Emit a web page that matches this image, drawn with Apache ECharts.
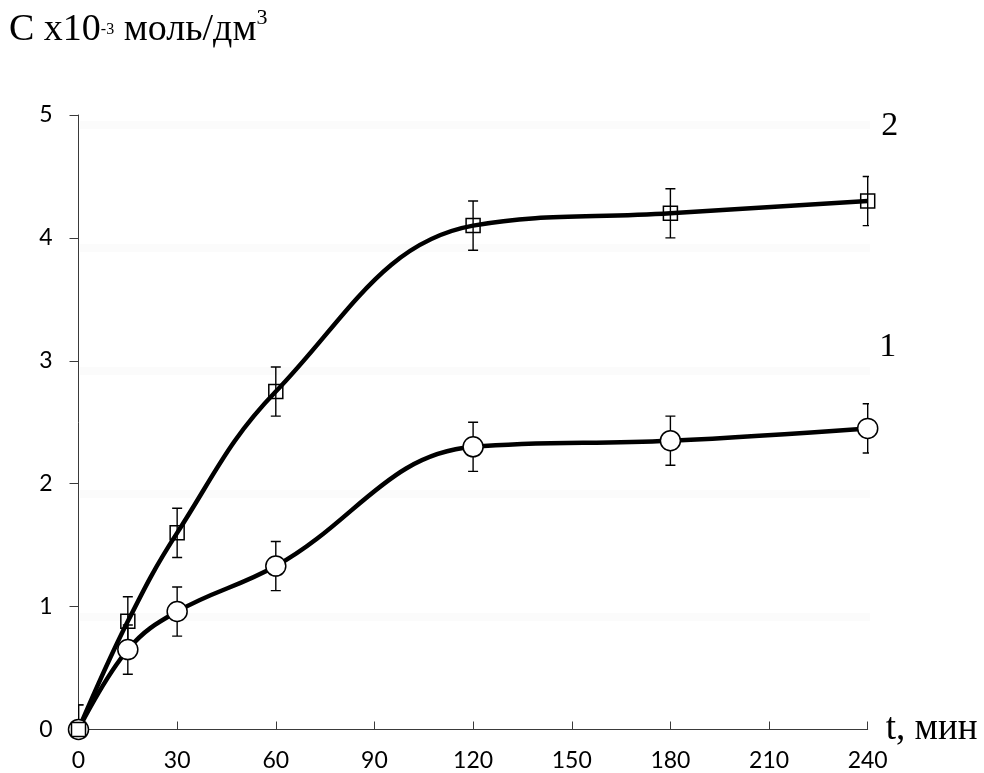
<!DOCTYPE html>
<html>
<head>
<meta charset="utf-8">
<script src="https://cdn.jsdelivr.net/npm/echarts@6/dist/echarts.min.js"></script>
<style>
  html, body { margin: 0; padding: 0; background: #fff; }
  #chart { width: 984px; height: 773px; }
</style>
</head>
<body>
<div id="chart"></div>
<script>
// Time points, min
const timePoints = [0, 15, 30, 60, 120, 180, 240];
// Concentration, x10^-3 mol/dm3
const curve1 = [0, 0.65, 0.96, 1.33, 2.3, 2.35, 2.45];
const curve2 = [0, 0.88, 1.6, 2.75, 4.1, 4.2, 4.3];
// Error bar half-widths
const err1 = [0.2, 0.2, 0.2, 0.2, 0.2, 0.2, 0.2];
const err2 = [0.2, 0.2, 0.2, 0.2, 0.2, 0.2, 0.2];
// Axis ranges
const xMin = 0, xMax = 240, xStep = 30;
const yMin = 0, yMax = 5, yStep = 1;
const curveNames = ['1', '2'];

const pairs = (ys) => timePoints.map((t, i) => [t, ys[i]]);
const errData = (ys, es) => timePoints.map((t, i) => [t, ys[i], es[i]]);

// Vertical error bar with caps
function renderErr(params, api) {
  const x = api.value(0), y = api.value(1), e = api.value(2);
  const hi = api.coord([x, y + e]);
  const lo = api.coord([x, y - e]);
  const cap = 5;
  const style = { stroke: '#000', lineWidth: 1.4 };
  return {
    type: 'group',
    children: [
      { type: 'line', shape: { x1: hi[0], y1: hi[1], x2: lo[0], y2: lo[1] }, style },
      { type: 'line', shape: { x1: hi[0] - cap, y1: hi[1], x2: hi[0] + cap, y2: hi[1] }, style },
      { type: 'line', shape: { x1: lo[0] - cap, y1: lo[1], x2: lo[0] + cap, y2: lo[1] }, style }
    ]
  };
}

// Curve number placed above the last point
function curveLabel(ys, name, offset) {
  return {
    symbol: 'circle',
    symbolSize: 1,
    itemStyle: { color: 'rgba(0,0,0,0)' },
    silent: true,
    data: [{
      coord: [timePoints[timePoints.length - 1], ys[ys.length - 1]],
      label: {
        show: true, formatter: name, position: 'inside', offset: offset,
        color: '#000', fontFamily: 'Liberation Serif', fontSize: 34
      }
    }]
  };
}

const axisColor = '#3a3a3a';
const serif = 'Liberation Serif';
const chart = echarts.init(document.getElementById('chart'));
chart.setOption({
  animation: false,
  backgroundColor: '#fff',
  title: {
    text: '{b|С х10}{s|-3}{b| моль/дм}{t|3}',
    left: 9, top: 7, padding: 0,
    textStyle: {
      fontWeight: 'normal',
      rich: {
        b: { fontFamily: serif, fontSize: 38, lineHeight: 46, fontWeight: 'normal', color: '#000' },
        s: { fontFamily: serif, fontSize: 16, lineHeight: 46, fontWeight: 'normal', color: '#000' },
        t: { fontFamily: serif, fontSize: 22, lineHeight: 35, verticalAlign: 'top', fontWeight: 'normal', color: '#000' }
      }
    }
  },
  grid: [
    { left: 78.5, right: 116.3, top: 115, bottom: 43.5 },
    { left: 80, right: 114, top: 125, bottom: 33.5 }
  ],
  xAxis: [
    {
      type: 'value', gridIndex: 0, min: xMin, max: xMax, interval: xStep,
      axisLine: { lineStyle: { color: axisColor, width: 1 } },
      axisTick: { inside: true, length: 8, lineStyle: { color: axisColor, width: 1 } },
      splitLine: { show: false },
      axisLabel: { margin: 20, fontFamily: 'Lato', fontSize: 23, color: '#000' },
      name: 't, мин', nameLocation: 'end', nameGap: 18,
      nameTextStyle: { fontFamily: serif, fontSize: 37, color: '#000', verticalAlign: 'middle', padding: [6, 0, 0, 0] }
    },
    {
      type: 'value', gridIndex: 1, min: xMin, max: xMax, show: false
    }
  ],
  yAxis: [
    {
      type: 'value', gridIndex: 0, min: yMin, max: yMax, interval: yStep,
      axisLine: { show: true, lineStyle: { color: axisColor, width: 1 } },
      axisTick: { show: true, inside: false, length: 9, lineStyle: { color: axisColor, width: 1 } },
      splitLine: { show: false },
      axisLabel: { margin: 26, fontFamily: 'Lato', fontSize: 23, color: '#000' }
    },
    {
      type: 'value', gridIndex: 1, min: yMin, max: yMax, interval: yStep,
      axisLine: { show: false }, axisTick: { show: false }, axisLabel: { show: false },
      splitLine: { show: true, showMinLine: false, lineStyle: { color: '#fbfbfb', width: 8 } }
    }
  ],
  series: [
    {
      type: 'custom', xAxisIndex: 0, yAxisIndex: 0, z: 2, clip: true,
      renderItem: renderErr, data: errData(curve1, err1), silent: true
    },
    {
      type: 'custom', xAxisIndex: 0, yAxisIndex: 0, z: 2, clip: true,
      renderItem: renderErr, data: errData(curve2, err2), silent: true
    },
    {
      name: curveNames[0], type: 'line', z: 3, smooth: 0.4,
      data: pairs(curve1),
      symbol: 'circle', symbolSize: 20, showSymbol: true,
      lineStyle: { color: '#000', width: 4.5 },
      itemStyle: { color: '#fff', borderColor: '#000', borderWidth: 1.5 },
      markPoint: curveLabel(curve1, curveNames[0], [20, -81])
    },
    {
      name: curveNames[1], type: 'line', z: 3, smooth: 0.4,
      data: pairs(curve2),
      symbol: 'rect', symbolSize: 14, showSymbol: true,
      lineStyle: { color: '#000', width: 4.5 },
      itemStyle: { color: 'rgba(255,255,255,0)', borderColor: '#000', borderWidth: 1.5 },
      markPoint: curveLabel(curve2, curveNames[1], [22, -75])
    }
  ]
});
</script>
</body>
</html>
